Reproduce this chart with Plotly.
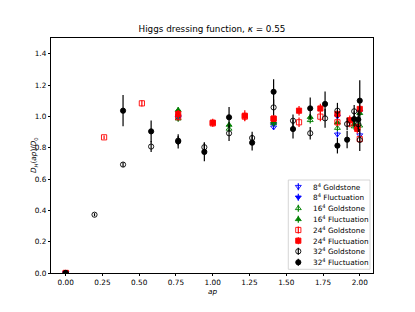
import plotly.graph_objects as go

# ---- data ----
x8 = [0.0, 0.765, 1.414, 1.848, 2.0]
y8_gold = [0.0, 0.99, 0.93, 0.885, 0.88]
e8_gold = [0.0, 0.015, 0.015, 0.02, 0.02]
y8_fluct = [0.0, 1.0, 0.95, 1.0, 1.03]
e8_fluct = [0.0, 0.015, 0.015, 0.02, 0.02]

x16 = [0.0, 0.765, 1.111, 1.414, 1.663, 1.848, 1.962, 2.0]
y16_gold = [0.0, 0.985, 0.92, 0.955, 0.975, 0.925, 0.935, 0.94]
e16_gold = [0.0, 0.02, 0.02, 0.02, 0.02, 0.02, 0.02, 0.02]
y16_fluct = [0.0, 1.04, 0.945, 0.965, 0.995, 0.96, 0.95, 1.02]
e16_fluct = [0.0, 0.02, 0.02, 0.02, 0.02, 0.02, 0.02, 0.02]

x24_gold = [0.0, 0.261, 0.518, 0.765, 1.0, 1.218, 1.414, 1.587, 1.732, 1.848, 1.932, 1.983, 2.0]
y24_gold = [0.0, 0.866, 1.083, 0.995, 0.955, 0.998, 0.985, 0.962, 0.998, 0.962, 0.955, 0.93, 0.855]
e24_gold = [0.0, 0.012, 0.02, 0.02, 0.02, 0.025, 0.02, 0.03, 0.03, 0.025, 0.025, 0.025, 0.02]
x24_fluct = [0.0, 0.765, 1.0, 1.218, 1.414, 1.587, 1.732, 1.848, 1.932, 1.983, 2.0]
y24_fluct = [0.0, 1.015, 0.96, 1.004, 0.985, 1.036, 1.05, 1.015, 0.975, 0.92, 1.047]
e24_fluct = [0.0, 0.025, 0.025, 0.035, 0.02, 0.03, 0.03, 0.025, 0.03, 0.03, 0.03]

x32_gold = [0.0, 0.196, 0.390, 0.581, 0.765, 0.943, 1.111, 1.268, 1.414, 1.546, 1.663,
            1.764, 1.848, 1.914, 1.962, 1.990, 2.0]
y32_gold = [0.0, 0.372, 0.692, 0.807, 0.845, 0.803, 0.892, 0.862, 1.057, 0.972, 0.892,
            0.987, 1.036, 0.951, 1.032, 0.95, 0.849]
e32_gold = [0.0, 0.01, 0.015, 0.035, 0.03, 0.03, 0.05, 0.04, 0.05, 0.04, 0.04,
            0.06, 0.05, 0.04, 0.04, 0.05, 0.07]
x32_fluct = [0.0, 0.390, 0.581, 0.765, 0.943, 1.111, 1.268, 1.414, 1.546, 1.663,
             1.764, 1.848, 1.914, 1.962, 1.990, 2.0]
y32_fluct = [0.0, 1.036, 0.904, 0.84, 0.773, 0.994, 0.832, 1.157, 0.919, 1.051,
             1.079, 0.813, 0.851, 0.983, 0.979, 1.1]
e32_fluct = [0.0, 0.1, 0.07, 0.045, 0.06, 0.065, 0.05, 0.08, 0.06, 0.07,
             0.08, 0.05, 0.055, 0.05, 0.06, 0.13]

x_ticks = [0.0, 0.25, 0.5, 0.75, 1.0, 1.25, 1.5, 1.75, 2.0]
y_ticks = [0.0, 0.2, 0.4, 0.6, 0.8, 1.0, 1.2, 1.4]

labels = ["8<sup>4</sup> Goldstone", "8<sup>4</sup> Fluctuation",
          "16<sup>4</sup> Goldstone", "16<sup>4</sup> Fluctuation",
          "24<sup>4</sup> Goldstone", "24<sup>4</sup> Fluctuation",
          "32<sup>4</sup> Goldstone", "32<sup>4</sup> Fluctuation"]
colors = ["blue", "blue", "green", "green", "red", "red", "black", "black"]
symbols = ["triangle-down-open", "triangle-down", "triangle-up-open", "triangle-up",
           "square-open", "square", "circle-open", "circle"]
xs_all = [x8, x8, x16, x16, x24_gold, x24_fluct, x32_gold, x32_fluct]
ys_all = [y8_gold, y8_fluct, y16_gold, y16_fluct, y24_gold, y24_fluct, y32_gold, y32_fluct]
es_all = [e8_gold, e8_fluct, e16_gold, e16_fluct, e24_gold, e24_fluct, e32_gold, e32_fluct]

# page-pixel geometry (the page has an 8 px body margin)
PAD = 8
FIG_W, FIG_H = 415 - PAD, 312 - PAD
AX_L, AX_R, AX_T, AX_B = 51, 373, 38, 273   # page pixels of the axes box
MSIZE = 5.2
TXT = 7.3


def px_to_paper_x(px):
    return (px - AX_L) / (AX_R - AX_L)


def px_to_paper_y(py):
    return (AX_B - py) / (AX_B - AX_T)


fig = go.Figure()
for name, xs, ys, es, col, sym in zip(labels, xs_all, ys_all, es_all, colors, symbols):
    fig.add_trace(go.Scatter(
        x=xs, y=ys, mode="markers", name=name, showlegend=False,
        marker=dict(color=col, symbol=sym, size=MSIZE,
                    line=dict(color=col, width=0.9)),
        error_y=dict(type="data", array=es, visible=True, color=col,
                     thickness=1.2, width=0),
    ))

# ---- custom legend drawn on an overlay axis in page-pixel units ----
LG_L, LG_R, LG_T, LG_B = 288.3, 370, 180, 269.3
fig.add_trace(go.Scatter(
    x=[LG_L, LG_R, LG_R, LG_L, LG_L], y=[LG_T, LG_T, LG_B, LG_B, LG_T],
    xaxis="x2", yaxis="y2", mode="lines", fill="toself",
    fillcolor="rgba(255,255,255,0.8)", line=dict(color="#cccccc", width=0.8),
    hoverinfo="skip", showlegend=False,
))
row_y = [186.7, 197.3, 208.3, 219.3, 230, 240.7, 251.3, 262.3]
for i, (name, col, sym) in enumerate(zip(labels, colors, symbols)):
    fig.add_trace(go.Scatter(
        x=[298.3], y=[row_y[i]], xaxis="x2", yaxis="y2", mode="markers",
        marker=dict(color=col, symbol=sym, size=MSIZE, line=dict(color=col, width=0.9)),
        error_y=dict(type="data", array=[3.5], visible=True, color=col,
                     thickness=1.2, width=0),
        hoverinfo="skip", showlegend=False,
    ))
    fig.add_annotation(x=px_to_paper_x(310.5), y=px_to_paper_y(row_y[i]),
                       xref="paper", yref="paper", text=name,
                       showarrow=False, xanchor="left", yanchor="middle",
                       font=dict(size=TXT))

font = "DejaVu Sans, Arial, sans-serif"
axis_style = dict(showline=True, mirror=True, linecolor="black", linewidth=0.7,
                  ticks="outside", ticklen=2.4, tickwidth=0.7, tickcolor="black",
                  showgrid=False, zeroline=False, tickfont=dict(size=TXT))
fig.update_layout(
    width=FIG_W, height=FIG_H,
    margin=dict(l=AX_L - PAD, r=FIG_W - (AX_R - PAD), t=AX_T - PAD,
                b=FIG_H - (AX_B - PAD)),
    paper_bgcolor="white", plot_bgcolor="white",
    font=dict(family=font, size=TXT, color="black"),
    title=dict(text="Higgs dressing function, <i>κ</i> = 0.55",
               x=((AX_L + AX_R) / 2 - PAD) / FIG_W, xanchor="center",
               y=1 - (29 - PAD) / FIG_H, yanchor="middle",
               font=dict(size=8.8, family=font)),
    showlegend=False,
    xaxis=dict(range=[-0.1, 2.09], tickvals=x_ticks, tickformat=".2f", **axis_style),
    yaxis=dict(range=[0, 1.5], tickvals=y_ticks, tickformat=".1f", **axis_style),
    xaxis2=dict(overlaying="x", range=[AX_L, AX_R], visible=False, fixedrange=True),
    yaxis2=dict(overlaying="y", range=[AX_B, AX_T], visible=False, fixedrange=True),
)

# axis labels as annotations for exact placement
fig.add_annotation(x=0.5, y=px_to_paper_y(291), xref="paper", yref="paper",
                   text="<i>ap</i>", showarrow=False, xanchor="center",
                   yanchor="middle", font=dict(size=TXT))
fig.add_annotation(x=px_to_paper_x(33.5), y=px_to_paper_y(155.5), xref="paper", yref="paper",
                   text="<i>D</i><sub><i>H</i></sub>(<i>ap</i>)/<i>D</i><sub>0</sub>",
                   showarrow=False, textangle=-90, xanchor="center",
                   yanchor="middle", font=dict(size=TXT))

fig.write_html("out.html")
